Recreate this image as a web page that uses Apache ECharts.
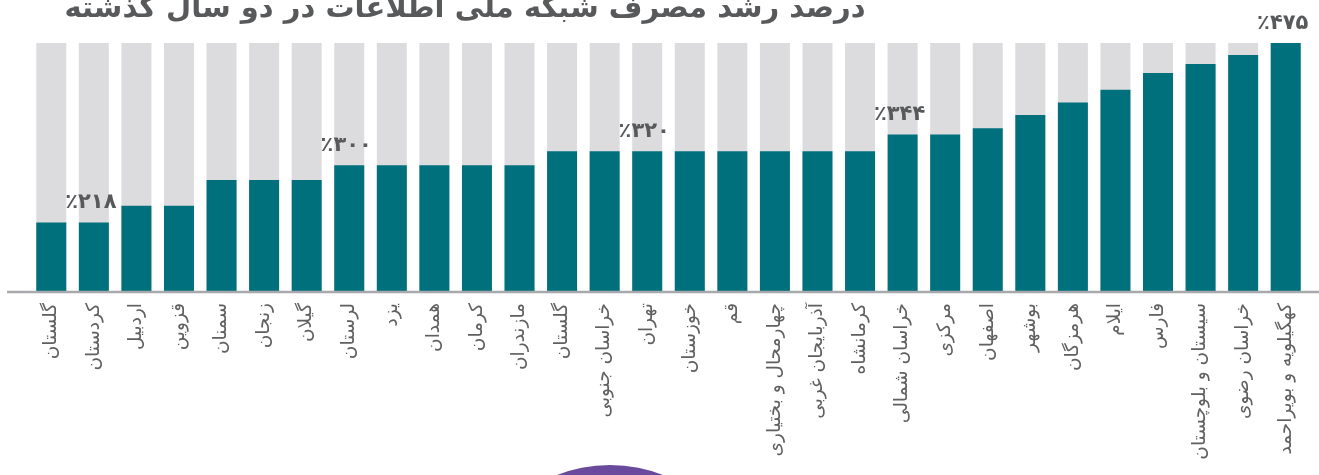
<!DOCTYPE html>
<html>
<head>
<meta charset="utf-8">
<script src="https://cdn.jsdelivr.net/npm/echarts@6/dist/echarts.min.js"></script>
<style>
html,body{margin:0;padding:0;background:#fff;}
#c{width:1319px;height:475px;}
</style>
</head>
<body>
<div id="c"></div>
<script>
var titleText = 'درصد رشد مصرف شبکه ملی اطلاعات در دو سال گذشته';
var provinces = ['گلستان','کردستان','اردبیل','قزوین','سمنان','زنجان','گیلان','لرستان','یزد','همدان','کرمان','مازندران','گلستان','خراسان جنوبی','تهران','خوزستان','قم','چهارمحال و بختیاری','آذربایجان غربی','کرمانشاه','خراسان شمالی','مرکزی','اصفهان','بوشهر','هرمزگان','ایلام','فارس','سیستان و بلوچستان','خراسان رضوی','کهگیلویه و بویراحمد'];
var growth = [218,218,242,242,279,279,279,300,300,300,300,300,320,320,320,320,320,320,320,320,344,344,353,372,390,408,432,445,458,475];
var labeledIdx = [1,7,14,20,29];

function toFa(n){
  var d='۰۱۲۳۴۵۶۷۸۹';
  return String(n).replace(/[0-9]/g,function(c){return d[+c];});
}

var chart = echarts.init(document.getElementById('c'));
var seriesData = growth.map(function(v,i){
  return labeledIdx.indexOf(i) >= 0 ? {value:v, label:{show:true}} : v;
});
chart.setOption({
  animation:false,
  title:{
    text:titleText,
    left:460, top:-10,
    textAlign:'center',
    textStyle:{fontFamily:'DejaVu Sans', fontWeight:'bold', fontSize:29, color:'#58595b'}
  },
  grid:{left:30, right:12, top:43, bottom:184},
  xAxis:{
    type:'category',
    data:provinces,
    axisLine:{show:false},
    axisTick:{show:false},
    axisLabel:{rotate:90, margin:12, interval:0, color:'#606062', fontFamily:'DejaVu Sans', fontSize:18.5}
  },
  yAxis:{type:'value', min:120, max:475, show:false, splitLine:{show:false}},
  series:[{
    type:'bar',
    data:seriesData,
    barWidth:30,
    showBackground:true,
    backgroundStyle:{color:'#dcdcde'},
    itemStyle:{color:'#00707c'},
    label:{
      show:false, position:'top', distance:9, offset:[-3,0],
      color:'#58595b', fontFamily:'DejaVu Sans', fontWeight:'bold', fontSize:21,
      formatter:function(p){return '٪' + toFa(p.value);}
    }
  }],
  graphic:[
    {type:'line', shape:{x1:7, y1:292, x2:1319, y2:292}, style:{stroke:'#a7a9ac', lineWidth:2.5}, z:10},
    {type:'circle', shape:{cx:610, cy:610, r:145}, style:{fill:'#6a4a9c'}}
  ]
});
</script>
</body>
</html>
